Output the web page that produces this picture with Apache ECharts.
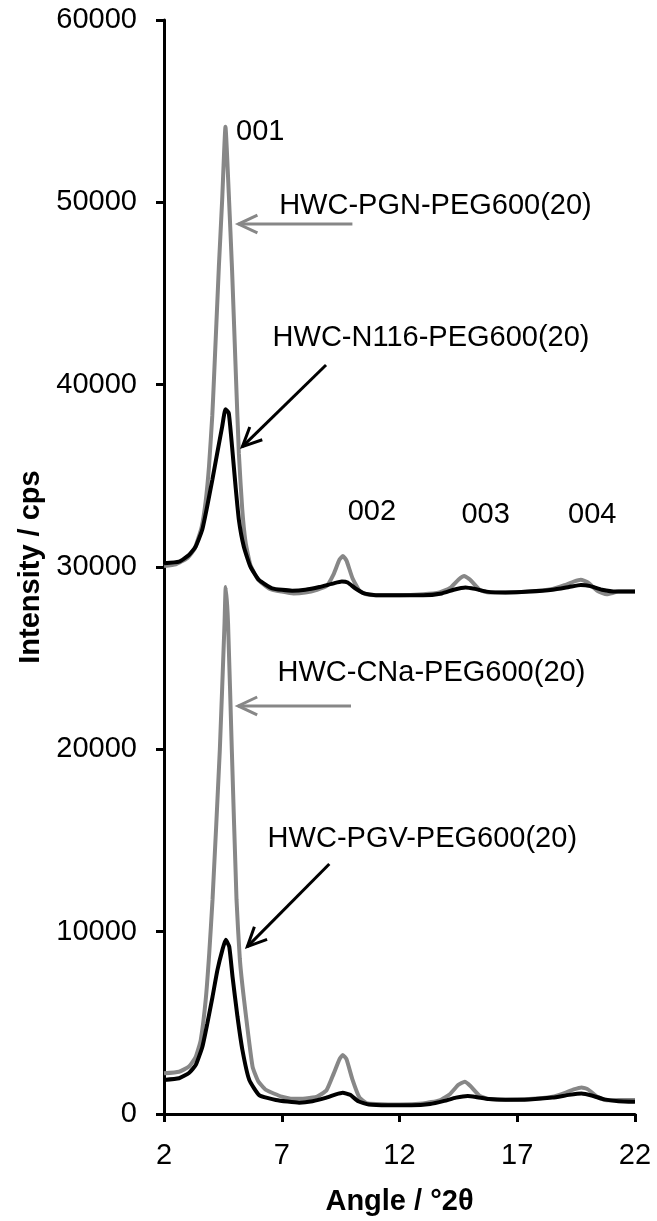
<!DOCTYPE html>
<html>
<head>
<meta charset="utf-8">
<script src="https://cdn.jsdelivr.net/npm/echarts@6/dist/echarts.min.js"></script>
<style>
html,body{margin:0;padding:0;background:#fff;}
#chart{width:657px;height:1221px;}
</style>
</head>
<body>
<div id="chart"></div>
<script>
// ---- data: [angle °2θ, intensity cps] ----
const pgnData = [[2.0,30050],[2.5,30150],[3.0,30500],[3.3,31000],[3.6,32200],[3.77,33600],[3.91,35500],[4.05,38300],[4.12,40260],[4.33,46470],[4.47,50130],[4.61,54150],[4.75,50500],[4.89,46300],[5.06,40260],[5.18,36200],[5.32,33200],[5.46,31400],[5.67,30100],[6.0,29300],[6.5,28800],[7.0,28650],[7.5,28550],[8.0,28600],[8.5,28750],[8.9,28950],[9.2,29600],[9.45,30400],[9.6,30600],[9.75,30350],[10.0,29400],[10.3,28700],[10.6,28500],[11,28450],[12,28450],[13,28500],[13.7,28600],[14.15,28850],[14.5,29300],[14.75,29500],[15.0,29300],[15.4,28750],[15.8,28600],[16.5,28600],[17.5,28650],[18.5,28800],[19.0,29000],[19.4,29200],[19.7,29300],[20.0,29150],[20.4,28700],[20.8,28500],[21.3,28650],[22.0,28650]];
const n116Data = [[2.0,30200],[2.64,30290],[3.06,30660],[3.34,31110],[3.62,32030],[3.83,33300],[4.05,34770],[4.26,36250],[4.47,37700],[4.61,38650],[4.75,38440],[4.89,36600],[5.04,34400],[5.18,32580],[5.39,31110],[5.67,30020],[6.03,29290],[6.59,28830],[7.44,28700],[8.0,28750],[8.6,28900],[9.2,29100],[9.55,29200],[9.8,29150],[10.1,28850],[10.5,28550],[11,28450],[12,28450],[13,28450],[13.8,28550],[14.3,28750],[14.8,28880],[15.2,28800],[15.7,28650],[16.5,28600],[17.5,28650],[18.5,28750],[19.2,28900],[19.7,29010],[20.1,28950],[20.6,28750],[21.2,28650],[22.0,28650]];
const cnaData = [[2.0,2230],[2.64,2320],[3.06,2600],[3.35,3140],[3.56,4060],[3.77,6250],[3.92,8800],[4.06,11740],[4.37,19960],[4.57,26910],[4.62,28900],[4.72,26910],[4.88,19960],[5.08,11740],[5.22,8500],[5.40,6250],[5.76,2600],[6.0,1800],[6.33,1320],[7.0,950],[7.46,830],[8.0,850],[8.5,950],[8.9,1300],[9.2,2200],[9.45,3000],[9.59,3240],[9.75,3000],[10.0,1900],[10.3,900],[10.6,600],[11,550],[12,520],[13,580],[13.7,750],[14.15,1100],[14.5,1600],[14.77,1770],[15.0,1550],[15.4,1000],[15.8,820],[16.5,780],[17.5,820],[18.5,950],[19.0,1150],[19.4,1350],[19.73,1460],[20.0,1350],[20.4,950],[20.8,750],[21.3,770],[22.0,770]];
const pgvData = [[2.0,1870],[2.64,1960],[3.06,2250],[3.35,2690],[3.63,3690],[3.84,4970],[4.06,6430],[4.27,7900],[4.48,9000],[4.62,9550],[4.77,9180],[4.91,7530],[5.12,5340],[5.33,3510],[5.62,1870],[6.04,1040],[6.75,770],[7.74,620],[8.3,700],[8.9,900],[9.3,1080],[9.59,1170],[9.9,1050],[10.25,700],[10.7,520],[11.5,480],[12.5,480],[13.3,550],[13.9,720],[14.4,900],[14.9,990],[15.3,920],[15.8,820],[16.5,780],[17.5,800],[18.5,900],[19.2,1050],[19.73,1130],[20.2,1000],[20.7,800],[21.3,700],[22.0,670]];

const seriesNames = ['HWC-PGN-PEG600(20)','HWC-N116-PEG600(20)','HWC-CNa-PEG600(20)','HWC-PGV-PEG600(20)'];
const xTicks = [2, 7, 12, 17, 22];
const yTicks = [0, 10000, 20000, 30000, 40000, 50000, 60000];

// annotation texts anchored at [angle, intensity] (left edge, vertical middle)
const annotTexts = [
  {name:'001', value:[5.06,53860]},
  {name:'002', value:[9.80,32990]},
  {name:'003', value:[14.63,32850]},
  {name:'004', value:[19.16,32850]},
  {name:'HWC-PGN-PEG600(20)', value:[6.89,49800]},
  {name:'HWC-N116-PEG600(20)', value:[6.61,42560]},
  {name:'HWC-CNa-PEG600(20)', value:[6.82,24190]},
  {name:'HWC-PGV-PEG600(20)', value:[6.40,15080]}
];
// arrows: [tailX, tailY, tipX, tipY, colourIndex]
const arrowData = [
  [10.0,48810,5.16,48810,0],
  [8.88,41080,5.33,36600,1],
  [9.94,22380,5.15,22380,0],
  [9.02,13710,5.54,9180,1]
];

const GREY = '#878787';
const BLACK = '#000000';
const FONT = '"Liberation Sans", Arial, Helvetica, sans-serif';

const chart = echarts.init(document.getElementById('chart'), null, {renderer:'canvas'});

function lineSeries(name, data, color) {
  return {
    name: name, type: 'line', data: data, showSymbol: false, symbol: 'none',
    smooth: 0.15, lineStyle: {color: color, width: 4}, itemStyle:{color: color},
    animation: false, silent: true, z: color === BLACK ? 3 : 2
  };
}

const option = {
  animation: false,
  backgroundColor: '#ffffff',
  textStyle: {fontFamily: FONT},
  grid: {left: 164, right: 22, top: 20, bottom: 107, containLabel: false},
  xAxis: {
    type: 'value', min: xTicks[0], max: xTicks[xTicks.length-1], interval: 5,
    name: 'Angle / °2θ', nameLocation: 'middle', nameGap: 73,
    nameTextStyle: {fontFamily: FONT, fontSize: 29, fontWeight: 'bold', color: '#000'},
    axisLine: {show: true, onZero: false, lineStyle: {color: '#000', width: 3}},
    axisTick: {show: true, inside: false, length: 8, lineStyle: {color: '#000', width: 3}},
    axisLabel: {fontFamily: FONT, fontSize: 29, color: '#000', margin: 27},
    splitLine: {show: false}
  },
  yAxis: {
    type: 'value', min: yTicks[0], max: yTicks[yTicks.length-1], interval: 10000,
    name: 'Intensity / cps', nameLocation: 'middle', nameGap: 112,
    nameTextStyle: {fontFamily: FONT, fontSize: 29, fontWeight: 'bold', color: '#000'},
    axisLine: {show: true, lineStyle: {color: '#000', width: 3}},
    axisTick: {show: true, inside: false, length: 8, lineStyle: {color: '#000', width: 3}},
    axisLabel: {fontFamily: FONT, fontSize: 29, color: '#000', margin: 27,
      formatter: function (v) { return String(v); }},
    splitLine: {show: false}
  },
  series: [
    lineSeries(seriesNames[0], pgnData, GREY),
    lineSeries(seriesNames[1], n116Data, BLACK),
    lineSeries(seriesNames[2], cnaData, GREY),
    lineSeries(seriesNames[3], pgvData, BLACK),
    {
      type: 'scatter', data: annotTexts, symbolSize: 0, silent: true, z: 5,
      itemStyle: {opacity: 1},
      label: {show: true, position: 'right', distance: 0, formatter: '{b}', opacity: 1,
        fontFamily: FONT, fontSize: 29, color: '#000', align: 'left', verticalAlign: 'middle'}
    },
    {
      type: 'custom', data: arrowData, silent: true, z: 4,
      renderItem: function (params, api) {
        const p1 = api.coord([api.value(0), api.value(1)]);
        const p2 = api.coord([api.value(2), api.value(3)]);
        const col = api.value(4) === 0 ? GREY : BLACK;
        const ang = Math.atan2(p1[1]-p2[1], p1[0]-p2[0]);
        const L = 21, spread = 0.44;
        const w1 = [p2[0] + L*Math.cos(ang+spread), p2[1] + L*Math.sin(ang+spread)];
        const w2 = [p2[0] + L*Math.cos(ang-spread), p2[1] + L*Math.sin(ang-spread)];
        return {
          type: 'group',
          children: [
            {type: 'line', shape: {x1: p1[0], y1: p1[1], x2: p2[0], y2: p2[1]},
             style: {stroke: col, lineWidth: 3}},
            {type: 'polyline', shape: {points: [w1, p2, w2]},
             style: {stroke: col, lineWidth: 3, fill: null, lineJoin: 'miter'}}
          ]
        };
      }
    }
  ]
};
chart.setOption(option);
</script>
</body>
</html>
